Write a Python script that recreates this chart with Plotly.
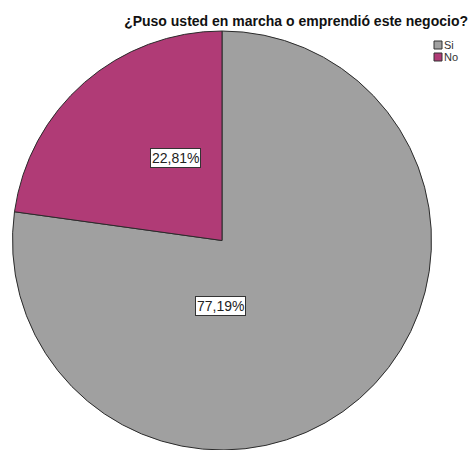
import math
import plotly.graph_objects as go

# Survey answers and their shares (%)
labels = ["Si", "No"]
values = [77.19, 22.81]
colors = ["#a0a0a0", "#b03b76"]
title_text = "¿Puso usted en marcha o emprendió este negocio?"

W, H = 470, 450
dom_x = [11 / W, 433 / W]
dom_y = [0.0, 1 - 31 / H]

fig = go.Figure(
    go.Pie(
        labels=labels,
        values=values,
        sort=False,
        direction="clockwise",
        rotation=0,
        marker=dict(colors=colors, line=dict(color="#2b2b2b", width=1)),
        textinfo="none",
        hoverinfo="label+percent",
        showlegend=False,
        domain=dict(x=dom_x, y=dom_y),
    )
)

# Pie geometry in pixels, used to place the boxed percentage labels
cx = (dom_x[0] + dom_x[1]) / 2 * W
cy = H - (dom_y[0] + dom_y[1]) / 2 * H
R = min((dom_x[1] - dom_x[0]) * W, (dom_y[1] - dom_y[0]) * H) / 2

total = sum(values)
si_frac = values[0] / total
no_frac = values[1] / total

# "No" label sits at the middle of its wedge; "Si" label below the centre
no_mid = 2 * math.pi * (si_frac + no_frac / 2)  # clockwise from 12 o'clock
pos = {
    "No": (cx + 0.52 * R * math.sin(no_mid), cy - 0.52 * R * math.cos(no_mid)),
    "Si": (cx - 1.5, cy + 0.36 * R),
}


def fmt(v):
    return f"{v:.2f}".replace(".", ",") + "%"


font_family = "Liberation Sans, Arial"
annotations = []
for lab, v in zip(labels, values):
    px, py = pos[lab]
    annotations.append(
        dict(
            x=px / W,
            y=1 - py / H,
            xref="paper",
            yref="paper",
            text=fmt(v),
            showarrow=False,
            font=dict(family=font_family, size=14, color="#222222"),
            bgcolor="white",
            bordercolor="#333333",
            borderwidth=1,
            borderpad=1,
        )
    )

# Compact legend: small swatches with the category names beside them
shapes = []
sw_x0, sw_size, sw_top, sw_step = 434, 8, 41, 12
for i, (lab, col) in enumerate(zip(labels, colors)):
    top = sw_top + i * sw_step
    shapes.append(
        dict(
            type="rect",
            xref="paper",
            yref="paper",
            x0=sw_x0 / W,
            x1=(sw_x0 + sw_size) / W,
            y0=1 - (top + sw_size) / H,
            y1=1 - top / H,
            fillcolor=col,
            line=dict(color="#333333", width=1),
        )
    )
    annotations.append(
        dict(
            x=(sw_x0 + sw_size + 1) / W,
            y=1 - (top + sw_size / 2) / H,
            xref="paper",
            yref="paper",
            xanchor="left",
            yanchor="middle",
            text=lab,
            showarrow=False,
            borderpad=0,
            font=dict(family=font_family, size=11, color="#333333"),
        )
    )

fig.update_layout(
    width=W,
    height=H,
    margin=dict(l=0, r=0, t=0, b=0, autoexpand=False),
    paper_bgcolor="white",
    plot_bgcolor="white",
    showlegend=False,
    title=dict(
        text="<b>" + title_text + "</b>",
        x=468 / W,
        xanchor="right",
        y=1 - 21 / H,
        yanchor="middle",
        font=dict(family=font_family, size=14, color="#111111"),
    ),
    annotations=annotations,
    shapes=shapes,
)

fig.write_html("out.html")
